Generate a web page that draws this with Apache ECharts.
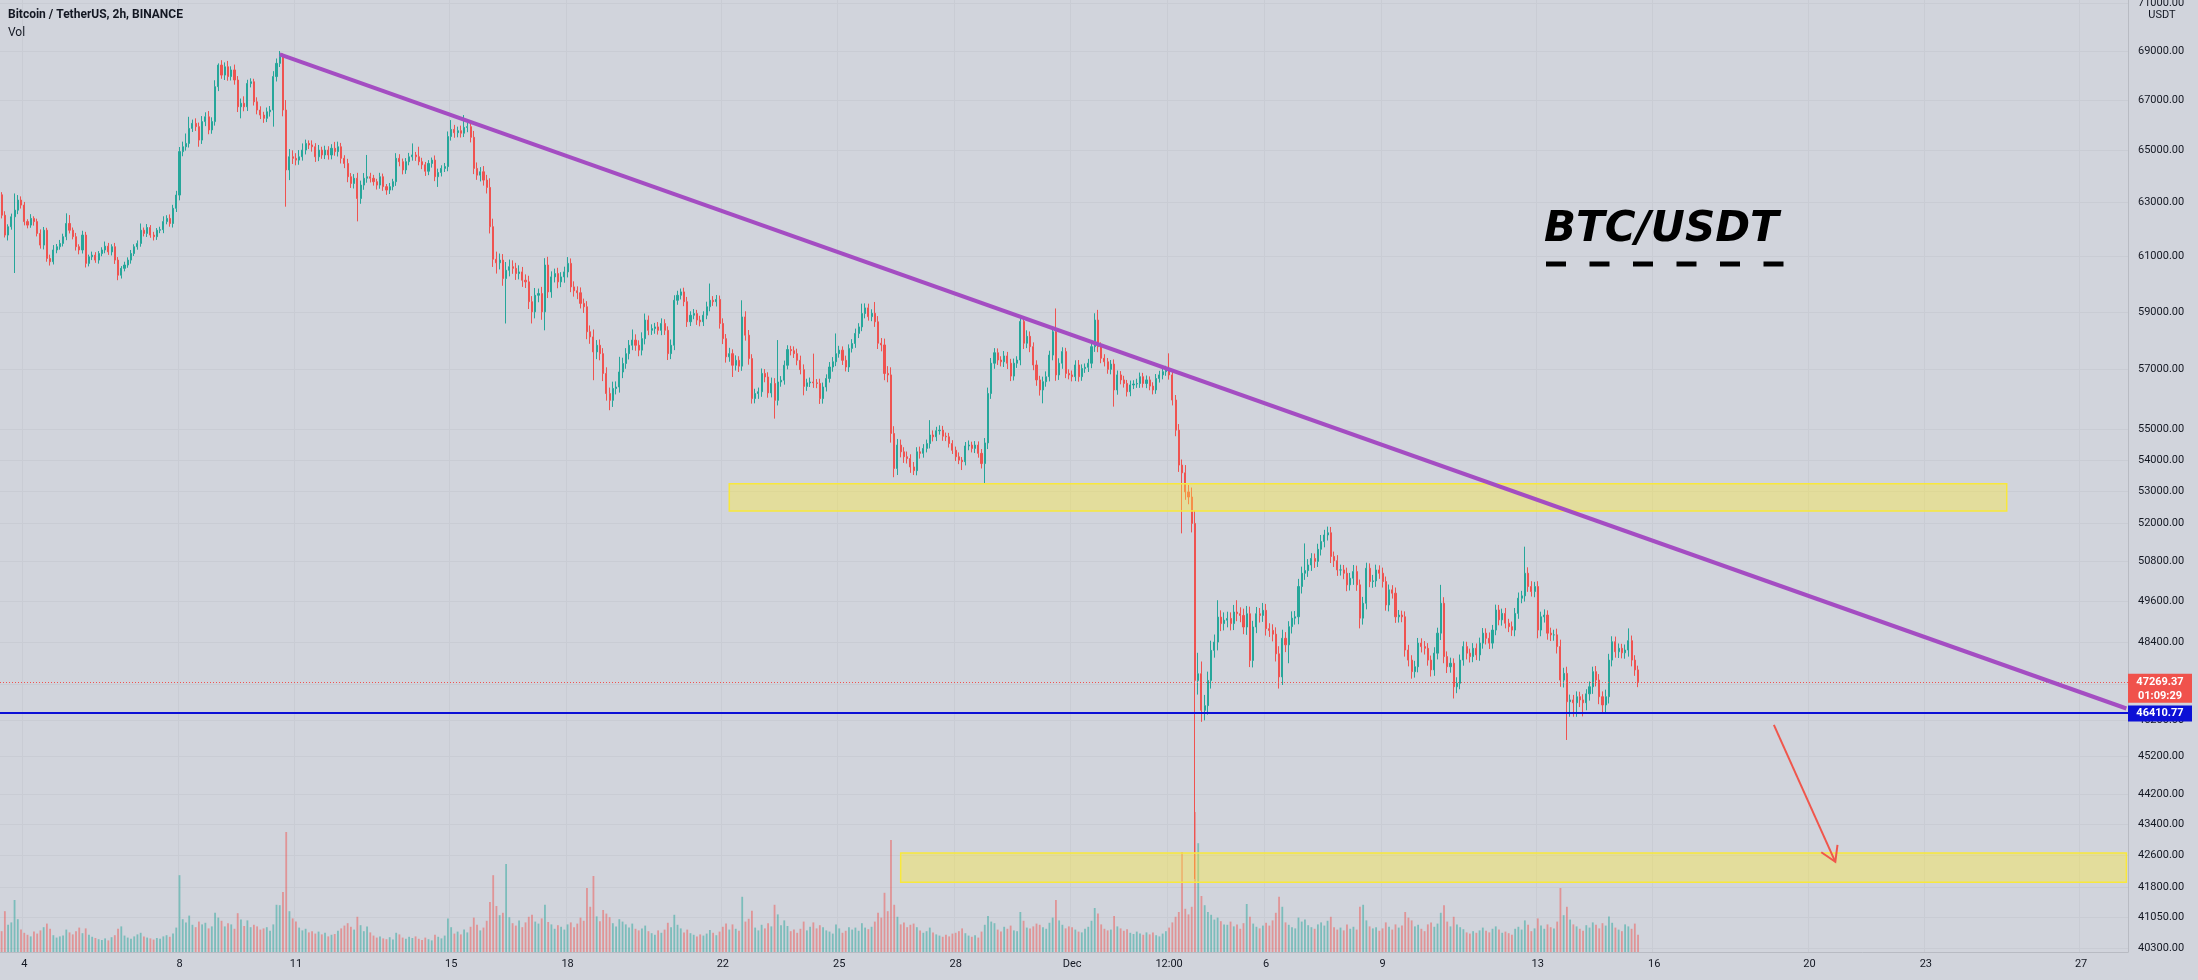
<!DOCTYPE html>
<html><head><meta charset="utf-8">
<script src="https://cdn.jsdelivr.net/npm/echarts@6/dist/echarts.min.js"></script>
<style>html,body{margin:0;padding:0;background:#d1d4dc;}#c{width:2198px;height:980px;}</style>
</head><body><div id="c"></div>
<script>
// ---------- DATA (BTC/USDT, 2h candles, Binance, from 2021-11-03 10:00 UTC) ----------
const firstOpen = 63300;
const closes = [
62530,61790,62100,62470,62720,63100,62910,
62290,62160,62410,62290,61850,61420,61970,60930,60810,61240,61360,61480,
61730,62220,61970,61730,61360,61240,61790,60750,60990,61050,60870,61110,
61240,61380,61170,61360,60870,60320,60570,60690,60870,61110,61360,61480,
61970,61850,62070,61790,61730,61970,61990,62290,62410,62220,62790,63290,
64960,65150,65280,65870,66070,65940,65410,66140,66330,65810,66140,67540,
68420,68010,68350,67950,68220,67810,66730,66870,66730,67670,67740,66930,
66600,66400,66270,66530,66600,67950,68490,68770,66600,64250,64760,64700,
64630,64760,65020,65280,65220,65150,64760,65020,64830,65020,64830,65090,
64960,65150,64700,64500,63990,63730,63930,63160,63670,63930,63990,63930,
63800,63670,63990,63610,63480,63610,63800,64700,64570,64250,64570,64760,
64830,64760,64570,64450,64200,64500,64630,63990,64150,64310,64380,65550,
65830,65700,65780,65680,65910,65940,65520,64310,64050,64180,63860,63580,
62100,60900,60770,60870,60200,60500,60630,60570,60380,60440,60140,60080,
59370,59010,59600,59660,59010,60690,59720,60260,60380,60080,60260,60440,
60750,59900,59760,59690,59310,59190,58310,58130,57610,57840,57550,56870,
56190,55960,56360,56410,56920,57210,57550,57840,58020,57840,57670,58070,
58720,58360,58420,58480,58360,58600,58360,57550,57840,59420,59600,59720,
59370,58660,58890,58950,58720,58660,58890,59190,59420,59370,59450,58600,
58070,57440,57550,57150,57320,57120,58830,58190,57380,56020,56190,56250,
56870,56750,56210,56530,55960,56580,56640,57150,57690,57650,57550,57320,
57000,56430,56550,56580,56550,56530,56020,56410,56700,57090,57270,57550,
57670,57320,57090,57730,57900,58250,58480,58950,59150,58840,58960,58660,
57910,57850,56870,56820,54860,53720,54480,54260,54100,54040,53770,53650,
54260,54210,54370,54530,54810,54750,54950,54970,54770,54750,54530,54310,
54100,53990,53940,54450,54480,54370,54480,54210,53880,54550,56190,57220,
57580,57330,57270,57470,57220,56780,57220,57330,58670,57910,58150,57790,
57160,56650,56310,56590,56760,57500,58310,56820,57220,57620,56870,56820,
56760,57160,56760,57040,57080,57220,57790,58720,57790,57390,57270,57010,
57190,56310,56820,56650,56530,56250,56480,56510,56530,56760,56530,56650,
56440,56310,56700,56820,56930,57010,56820,55970,54970,53830,53580,52970,
52810,51980,47310,47500,46470,46600,47310,48170,48410,49140,48950,49050,
49100,48950,49290,49240,49190,48850,49240,47880,48850,49240,49190,49340,
48800,48750,48640,48070,47410,48520,48330,48860,49110,49150,50050,50450,
50530,50700,50900,50810,51180,51420,51620,51690,50960,50830,50550,50550,
50450,50100,50300,50500,50100,49110,49550,50600,50200,50220,50550,50450,
50200,49500,49950,49850,49150,49200,49150,48180,47890,47560,47700,48380,
48280,48230,47890,47610,48090,48670,49550,47990,47700,47800,47130,47230,
47890,48280,48090,47990,48230,48040,48380,48670,48520,48380,48760,49350,
49060,49250,48960,48860,48760,49250,49700,49770,50450,50050,49900,50050,
48760,49150,49200,48670,48620,48620,48280,47320,47510,46710,46760,46680,
46850,46760,46680,46930,47130,47560,47320,46850,46620,46850,47890,48420,
48130,48230,48100,48180,48450,47890,47610,47269.37
];
const upWick = [
100,150,90,120,630,190,140,
120,90,160,80,110,150,120,90,140,180,100,130,
110,380,315,100,140,90,160,120,80,130,110,90,
100,170,120,90,140,110,80,120,100,130,90,110,
250,100,130,90,120,80,110,200,120,150,130,160,
180,200,390,460,150,200,160,220,180,230,170,260,
70,200,180,240,150,220,160,190,280,150,140,120,
180,150,130,170,160,220,200,230,130,400,300,250,
200,260,260,150,120,180,140,200,130,170,150,160,
250,200,150,120,180,140,160,210,170,200,840,150,
130,110,150,120,100,140,110,200,160,120,140,150,
450,120,390,150,110,130,100,180,150,120,140,200,
370,180,160,200,490,150,200,250,230,180,220,200,
350,300,280,240,220,300,260,230,200,240,180,210,
220,200,260,180,240,250,300,200,180,210,170,190,
230,180,200,160,190,170,200,220,260,180,200,190,
210,200,230,190,520,200,190,180,370,200,170,220,
230,160,150,140,170,180,150,140,200,180,160,120,
150,170,140,160,130,150,140,180,600,150,160,140,
180,160,200,150,170,140,590,200,180,150,160,140,
170,150,160,200,180,1440,140,160,150,130,150,170,
160,180,140,150,970,130,160,150,140,170,160,700,
150,130,160,140,150,170,130,350,160,150,140,400,
200,180,220,250,260,240,200,180,150,170,140,160,
150,170,140,130,490,150,130,160,140,120,130,110,
120,140,100,130,150,110,130,120,140,160,200,180,
160,150,130,170,140,150,160,130,200,180,210,170,
150,160,140,170,180,150,160,820,170,150,130,140,
150,160,170,140,130,150,200,240,360,150,140,130,
140,160,150,130,140,120,150,130,160,140,130,150,
120,130,150,140,130,120,550,150,170,200,180,250,
220,300,400,600,350,300,250,280,220,500,200,230,
200,180,210,350,190,200,230,210,180,200,170,220,
190,160,180,200,220,250,180,160,200,170,230,200,
830,180,160,150,170,200,160,190,180,150,170,160,
150,170,160,200,180,160,190,170,150,180,160,140,
170,150,160,140,170,150,130,160,150,140,170,150,
140,160,150,130,170,160,550,180,150,160,140,170,
160,150,140,130,150,140,160,150,140,170,150,160,
150,140,160,130,150,160,170,150,810,180,160,140,
160,150,170,140,160,150,180,200,160,190,150,140,
150,140,160,130,150,140,160,170,150,200,180,160,
150,140,130,160,360,150,140,120
];
const dnWick = [
120,90,200,110,2070,150,130,
140,120,100,150,110,130,160,120,140,100,120,110,
110,130,120,100,140,160,130,150,110,120,100,130,
100,120,110,130,140,180,120,110,100,130,90,110,
120,110,130,100,140,120,110,130,100,120,150,140,
200,180,150,160,140,170,260,150,180,170,150,160,
180,150,200,170,160,190,210,460,180,170,160,150,
170,160,180,150,190,660,200,150,250,1400,390,220,
200,180,150,170,160,190,200,170,150,160,180,170,
160,190,200,180,210,170,190,860,200,180,170,160,
150,170,140,160,180,150,140,160,180,170,150,140,
150,160,140,170,180,150,160,170,390,150,140,180,
160,200,180,170,150,190,200,220,180,240,210,230,
250,280,390,240,260,1600,220,200,230,210,240,220,
260,410,230,250,280,650,220,210,200,230,190,210,
200,190,210,230,180,220,260,240,970,250,230,260,
240,330,220,200,190,210,180,200,170,190,210,180,
200,170,160,180,150,170,160,220,190,170,160,150,
160,180,150,140,170,160,150,140,160,150,170,180,
190,200,170,400,180,200,160,190,210,170,160,180,
170,180,160,150,610,170,160,150,140,160,150,170,
160,300,150,140,170,160,180,170,150,140,160,150,
140,160,150,170,140,150,160,150,170,140,160,180,
200,220,230,250,300,280,210,180,200,160,190,140,
150,170,140,130,160,150,140,130,150,140,130,120,
140,130,270,120,140,130,150,140,160,640,200,180,
190,170,160,180,200,170,150,160,180,200,170,190,
180,200,190,450,170,160,180,200,170,190,160,150,
160,150,170,140,150,160,170,180,190,170,160,150,
170,560,160,150,140,160,150,140,130,150,140,160,
140,150,130,140,150,140,160,180,200,220,1910,250,
230,280,5310,400,320,280,250,230,210,240,220,200,
210,200,190,220,200,210,230,190,200,180,210,190,
200,190,210,220,330,230,210,530,200,190,220,210,
200,190,180,200,170,190,180,170,200,190,180,170,
180,190,170,200,180,300,190,180,170,190,180,170,
180,170,190,160,180,170,160,190,180,200,170,160,
170,180,160,190,170,180,200,190,180,170,330,180,
170,160,180,170,160,150,170,160,180,170,160,150,
160,170,150,160,170,180,160,150,170,160,150,170,
240,180,170,190,180,170,200,190,210,1060,420,390,
390,200,380,210,190,200,180,210,230,200,190,180,
170,180,160,170,190,180,170,150
];
const volumes = [
5200,10200,6800,7400,13000,8200,5600,
4800,4300,3900,5100,4600,5400,6200,7100,5800,4200,3600,3900,
4100,5600,4900,4400,5200,6100,4700,5900,4300,3800,3500,3200,
3000,3400,2900,3700,4200,5800,6400,4100,3600,3300,3900,4400,
4800,3900,3600,3400,3100,3500,3300,3900,4200,3800,4600,6100,
19200,8200,7400,9100,6800,6200,7600,6900,7300,5900,6400,9800,
8600,7800,6400,7200,6900,5800,9700,8100,6500,7900,6200,6800,
6400,5600,5900,6200,5300,6900,11800,11700,15000,30000,10200,8400,
7600,6100,5400,5800,4900,5200,4600,5100,4400,4800,3900,4300,
4500,5300,5900,6600,7200,6300,5600,8800,6700,5200,6400,4900,
4100,3600,3900,3400,3200,3700,3100,4800,4400,3600,3300,3800,
3500,3900,3300,3000,3600,3200,2900,4300,3800,3400,4100,8400,
6200,4600,5100,4400,5600,4900,6300,8600,6800,5400,6100,7800,
12500,19200,11500,9200,9800,22000,8700,7200,6600,7900,6200,7400,
8800,9300,7600,7100,8400,11800,7500,6900,5800,6700,6300,5600,
6900,7400,6200,7100,8600,7800,16000,11300,19000,8900,7700,10500,
9600,8700,7200,6400,8200,7600,6900,6100,7100,5800,5400,5900,
6600,5200,4700,4300,5400,4800,5600,7300,6200,9300,6800,5900,
4900,5600,4700,4300,3900,4400,4100,4600,5500,4800,4200,5100,
6300,7100,5600,6900,5800,5300,13800,7600,8300,10300,6100,5400,
6800,5900,7200,6400,11800,9400,6700,7900,6500,5200,5600,4800,
5800,7600,5400,6300,7400,5900,6700,6200,5400,5100,4600,6900,
5900,4800,5300,6200,5600,6100,5300,7200,6100,5700,6300,7600,
9800,8600,14800,10200,28000,11800,8800,6900,7400,6200,6800,7100,
6200,5400,4800,5200,6100,4900,4400,4100,3800,4300,3900,4600,
4800,5200,5900,4700,4100,3800,4200,3600,5100,6800,9000,7600,
7200,5600,5100,6300,5800,6600,5400,5200,10000,7800,6100,5900,
6400,7100,6800,6200,5800,7300,8600,13000,7900,6800,5900,6400,
6200,5600,5100,4900,5800,6300,7800,11000,9600,6900,5800,5400,
5600,9000,6400,5900,5300,5700,4800,4500,5100,4600,4300,4900,
4400,4900,4200,3900,4600,5200,6100,7400,8800,10000,25000,10800,
9400,11300,35000,27200,14000,11700,10000,9300,8100,8600,7700,6900,
6800,7600,6400,6900,5800,7200,12000,8800,7100,6300,5900,6600,
7300,6600,7900,9800,13800,11300,7400,6800,6200,5900,8600,7600,
8100,6700,6200,5800,6900,7400,6600,7800,8800,6200,5600,6100,
5400,6900,5800,6300,5600,11300,11800,7900,6400,5900,6200,5300,
5900,7400,6300,5600,6900,6100,6600,10000,8600,7900,6400,6800,
5800,5200,6900,7400,6300,7100,9800,11700,7600,6400,8800,6900,
6200,5700,4900,4600,5200,4800,5400,6100,5300,4900,5800,6400,
5600,4800,5100,4700,4300,5800,6300,5600,7900,6800,5200,5900,
8400,6600,5800,6900,6200,5900,7600,16000,9200,11300,8100,6900,
6400,5800,5300,6700,6100,7400,6800,5900,7200,6600,8900,7300,
6100,5600,5200,6900,6400,5800,7100,4300
];
const priceTicks = [71000,69000,67000,65000,63000,61000,59000,57000,55000,54000,53000,52000,50800,49600,48400,47200,46200,45200,44200,43400,42600,41800,41050,40300];
const xTickTimes = ['2021-11-04 00:00','2021-11-08 00:00','2021-11-11 00:00','2021-11-15 00:00','2021-11-18 00:00','2021-11-22 00:00','2021-11-25 00:00','2021-11-28 00:00','2021-12-01 00:00','2021-12-03 12:00','2021-12-06 00:00','2021-12-09 00:00','2021-12-13 00:00','2021-12-16 00:00','2021-12-20 00:00','2021-12-23 00:00','2021-12-27 00:00'];
const xTickText = ['4','8','11','15','18','22','25','28','Dec','12:00','6','9','13','16','20','23','27'];
const lastPrice = 47269.37;
const countdown = '01:09:29';
const levelPrice = 46410.77;
// drawings: [barIndex, price]
const trendFrom = [86, 68860], trendTo = [657, 46520];
const upperZone = {from: 225, to: 620, top: 53230, bottom: 52370};
const lowerZone = {from: 278, to: 657, top: 42660, bottom: 41920};
const arrowFrom = [548, 46066], arrowTo = [567, 42434];

if (closes.length !== 507 || upWick.length !== 507 || dnWick.length !== 507 || volumes.length !== 507) {
  throw new Error('length mismatch ' + closes.length + ' ' + upWick.length + ' ' + dnWick.length + ' ' + volumes.length);
}

// ---------- BUILD ----------
const N_CAT = 658;
const t0 = Date.UTC(2021, 10, 3, 10);
const cats = [];
for (let i = 0; i < N_CAT; i++) {
  cats.push(new Date(t0 + i * 7200000).toISOString().slice(0, 16).replace('T', ' '));
}
const tickMap = {};
xTickTimes.forEach((t, k) => tickMap[t] = xTickText[k]);

const candles = [], volData = [];
let prev = firstOpen;
for (let i = 0; i < closes.length; i++) {
  const o = prev, c = closes[i];
  candles.push([o, c, Math.min(o, c) - dnWick[i], Math.max(o, c) + upWick[i]]);
  volData.push({value: volumes[i], itemStyle: {color: c >= o ? 'rgba(38,166,154,0.5)' : 'rgba(239,83,80,0.5)'}});
  prev = c;
}

const UP = '#26a69a', DOWN = '#ef5350';
const GRIDC = '#c9ccd4';
const chart = echarts.init(document.getElementById('c'), null, {renderer: 'canvas'});
const option = {
  backgroundColor: '#d1d4dc',
  animation: false,
  textStyle: {fontFamily: 'Roboto'},
  grid: [
    {left: 0, right: 70, top: 0, bottom: 28},
    {left: 0, right: 70, top: 700, bottom: 28}
  ],
  xAxis: [
    {type: 'category', data: cats, gridIndex: 0, boundaryGap: true,
     axisLine: {show: true, lineStyle: {color: '#b8bbc3'}},
     axisTick: {show: false},
     axisLabel: {interval: (i, v) => tickMap[v] !== undefined, formatter: v => tickMap[v] || '',
                 color: '#131722', fontSize: 11, fontFamily: 'Roboto', margin: 7},
     splitLine: {show: true, interval: (i, v) => tickMap[v] !== undefined, lineStyle: {color: GRIDC, width: 1}}},
    {type: 'category', data: cats, gridIndex: 1, show: false, boundaryGap: true}
  ],
  yAxis: [
    {type: 'log', logBase: 10, min: 40201, max: 71142, position: 'right', gridIndex: 0,
     axisLine: {show: true, lineStyle: {color: '#b8bbc3'}}, axisTick: {show: false},
     axisLabel: {show: false}, splitLine: {show: false}},
    {type: 'value', gridIndex: 1, min: 0, max: 63000, show: false, splitLine: {show: false}}
  ],
  series: [
    {type: 'line', name: 'grid', data: [], xAxisIndex: 0, yAxisIndex: 0, silent: true,
     markLine: {silent: true, z: 0, symbol: ['none', 'none'], animation: false,
       lineStyle: {color: GRIDC, width: 1, type: 'solid'},
       label: {show: true, position: 'end', distance: 10, formatter: p => Number(p.value).toFixed(2),
               color: '#131722', fontSize: 11, fontFamily: 'Roboto'},
       emphasis: {disabled: true},
       data: priceTicks.map(v => ({yAxis: v}))}},
    {type: 'bar', name: 'Vol', data: volData, xAxisIndex: 1, yAxisIndex: 1, barWidth: 1.8, z: 1, silent: true},
    {type: 'candlestick', name: 'BTCUSDT', data: candles, xAxisIndex: 0, yAxisIndex: 0, barWidth: 1.6, large: false,
     z: 3,
     itemStyle: {color: UP, color0: DOWN, borderColor: UP, borderColor0: DOWN, borderWidth: 1},
     markArea: {silent: true, z: 4,
       itemStyle: {color: 'rgba(255,235,59,0.40)', borderColor: '#f8e83c', borderWidth: 1.5},
       data: [
         [{xAxis: cats[upperZone.from], yAxis: upperZone.top}, {xAxis: cats[upperZone.to], yAxis: upperZone.bottom}],
         [{xAxis: cats[lowerZone.from], yAxis: lowerZone.top}, {xAxis: cats[lowerZone.to], yAxis: lowerZone.bottom}]
       ]},
     markLine: {silent: true, symbol: ['none', 'none'], label: {show: false}, animation: false, z: 6,
       data: [
         {yAxis: lastPrice, lineStyle: {color: DOWN, width: 1, type: [1, 2]}},
         {yAxis: levelPrice, lineStyle: {color: '#0c10d6', width: 2, type: 'solid'}},
         [{coord: [cats[trendFrom[0]], trendFrom[1]], lineStyle: {color: '#a44dc2', width: 4, type: 'solid'}},
          {coord: [cats[trendTo[0]], trendTo[1]]}]
       ]}}
  ],
  graphic: [
    {type: 'text', left: 8, top: 9, z: 100, style: {text: 'Bitcoin / TetherUS, 2h, BINANCE', font: 'bold 12px Roboto', fill: '#131722'}},
    {type: 'text', left: 8, top: 27, z: 100, style: {text: 'Vol', font: '12px Roboto', fill: '#131722'}},
    {type: 'text', left: 1544, top: 209, z: 100, style: {text: 'BTC/USDT', font: 'italic bold 42px "DejaVu Sans"', fill: '#000000'}},
    {type: 'line', z: 100, shape: {x1: 1546, y1: 264, x2: 1784, y2: 264}, style: {stroke: '#000000', lineWidth: 5, lineDash: [20, 23.5]}},
    {type: 'text', x: 2162, y: 15, z: 100, style: {text: 'USDT', font: '11px Roboto', fill: '#131722', align: 'center', verticalAlign: 'middle'}}
  ]
};
chart.setOption(option);

// dynamic drawings positioned through the chart's own scales
const yLast = chart.convertToPixel({yAxisIndex: 0}, lastPrice);
const yLvl = chart.convertToPixel({yAxisIndex: 0}, levelPrice);
const pA = chart.convertToPixel({xAxisIndex: 0, yAxisIndex: 0}, [arrowFrom[0], arrowFrom[1]]);
const pB = chart.convertToPixel({xAxisIndex: 0, yAxisIndex: 0}, [arrowTo[0], arrowTo[1]]);
const dx = pB[0] - pA[0], dy = pB[1] - pA[1], len = Math.hypot(dx, dy);
const ux = -dx / len, uy = -dy / len, H = 17, ang = 0.55;
const h1 = [pB[0] + H * (ux * Math.cos(ang) - uy * Math.sin(ang)), pB[1] + H * (ux * Math.sin(ang) + uy * Math.cos(ang))];
const h2 = [pB[0] + H * (ux * Math.cos(-ang) - uy * Math.sin(-ang)), pB[1] + H * (ux * Math.sin(-ang) + uy * Math.cos(-ang))];
const axisX = 2128;
chart.setOption({graphic: option.graphic.concat([
  {type: 'line', z: 90, shape: {x1: pA[0], y1: pA[1], x2: pB[0], y2: pB[1]}, style: {stroke: '#f0564c', lineWidth: 2}},
  {type: 'polyline', z: 90, shape: {points: [h1, pB, h2]}, style: {stroke: '#f0564c', lineWidth: 2, fill: null}},
  {type: 'rect', z: 110, shape: {x: axisX, y: yLast - 8, width: 64, height: 29}, style: {fill: '#f0524c'}},
  {type: 'text', z: 111, x: axisX + 32, y: yLast, style: {text: lastPrice.toFixed(2), font: 'bold 11px Roboto', fill: '#ffffff', align: 'center', verticalAlign: 'middle'}},
  {type: 'text', z: 111, x: axisX + 32, y: yLast + 14, style: {text: countdown, font: 'bold 11px Roboto', fill: '#ffffff', align: 'center', verticalAlign: 'middle'}},
  {type: 'rect', z: 112, shape: {x: axisX, y: yLvl - 7, width: 64, height: 16}, style: {fill: '#0c10d6'}},
  {type: 'text', z: 113, x: axisX + 32, y: yLvl + 1, style: {text: levelPrice.toFixed(2), font: 'bold 11px Roboto', fill: '#ffffff', align: 'center', verticalAlign: 'middle'}}
])});
</script>
</body></html>
